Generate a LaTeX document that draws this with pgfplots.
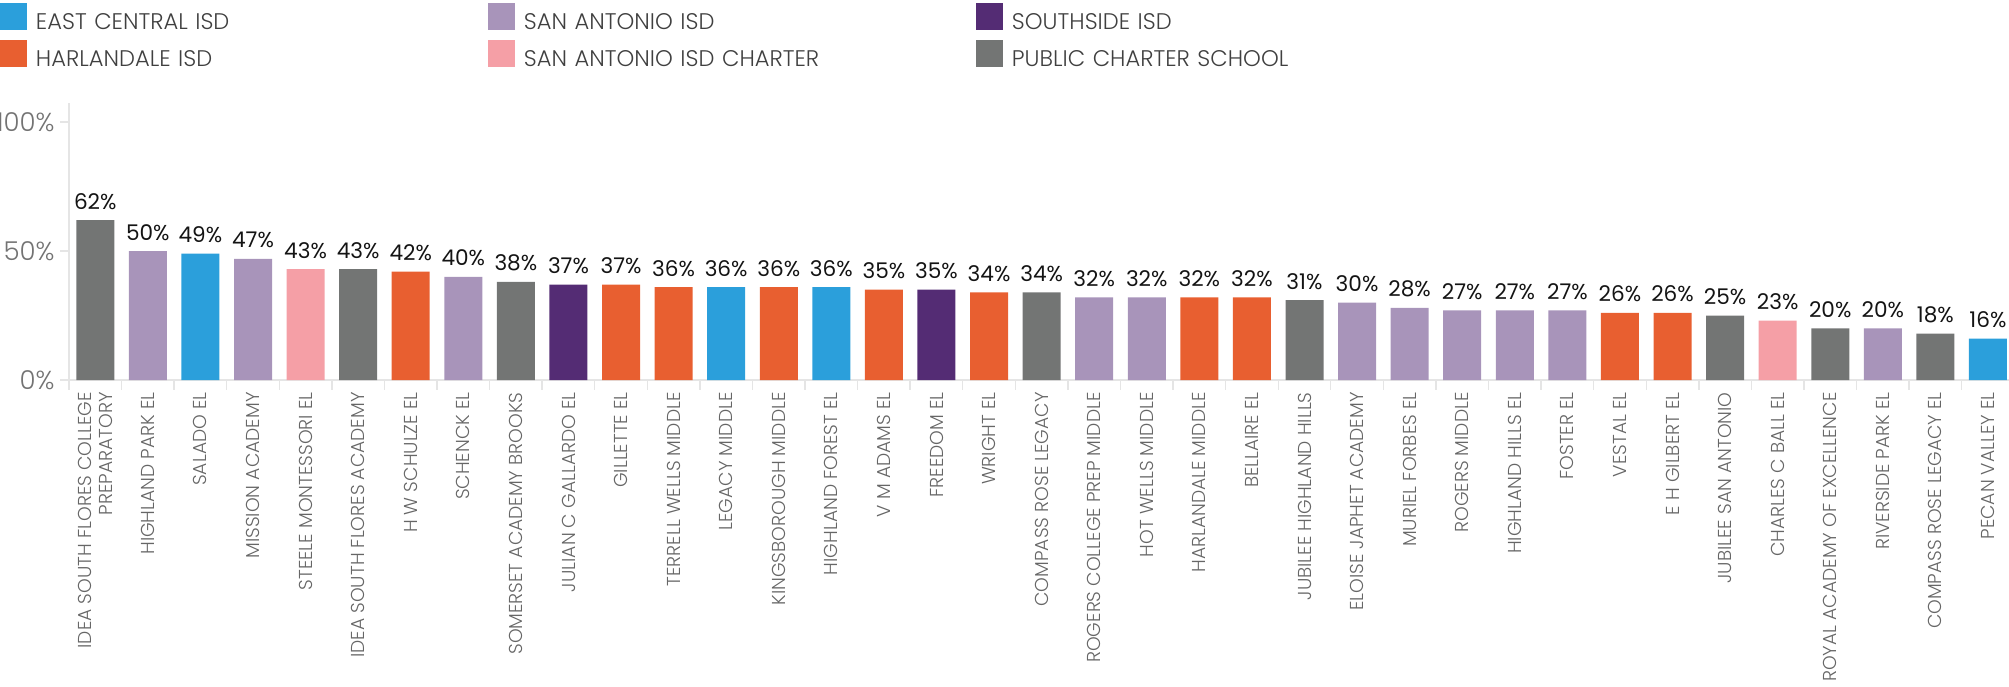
\documentclass[border=0pt]{standalone}
\usepackage{fontspec}
\setmainfont{Poppins Light}
\newfontfamily\regfont{Poppins}
\usepackage{pgfplots}
\pgfplotsset{compat=1.18}

\definecolor{cEC}{HTML}{2B9FDB}
\definecolor{cSA}{HTML}{A894BA}
\definecolor{cSS}{HTML}{542C74}
\definecolor{cHL}{HTML}{E85F30}
\definecolor{cSC}{HTML}{F59FA6}
\definecolor{cPC}{HTML}{737574}

\begin{document}
\begin{tikzpicture}
\begin{axis}[
  name=ax,
  scale only axis,
  width=970pt, height=138.5pt,
  xmin=-0.5, xmax=36.4,
  ymin=0, ymax=107.4,
  ybar, bar width=19pt,
  every axis plot/.append style={bar shift=0pt, draw=none},
  axis x line*=bottom, axis y line*=left,
  axis line style={draw=black!10, line width=0.7pt},
  tick align=outside,
  major tick length=4.5pt,
  minor tick length=5pt,
  ytick={0,50,100},
  yticklabels={0\%,50\%,100\%},
  yticklabel style={font=\fontsize{13}{15}\selectfont, text=black!55, inner xsep=2.5pt},
  ytick style={draw=black!10, line width=0.7pt},
  xtick={0,...,36},
  minor xtick={-0.5,0.5,...,36.5},
  major x tick style={draw=none},
  minor x tick style={draw=black!10, line width=0.7pt},
  xticklabels={
    {IDEA SOUTH FLORES COLLEGE\\PREPARATORY},
    HIGHLAND PARK EL, SALADO EL, MISSION ACADEMY, STEELE MONTESSORI EL,
    IDEA SOUTH FLORES ACADEMY, H W SCHULZE EL, SCHENCK EL,
    SOMERSET ACADEMY BROOKS, JULIAN C GALLARDO EL, GILLETTE EL,
    TERRELL WELLS MIDDLE, LEGACY MIDDLE, KINGSBOROUGH MIDDLE,
    HIGHLAND FOREST EL, V M ADAMS EL, FREEDOM EL, WRIGHT EL,
    COMPASS ROSE LEGACY, ROGERS COLLEGE PREP MIDDLE, HOT WELLS MIDDLE,
    HARLANDALE MIDDLE, BELLAIRE EL, JUBILEE HIGHLAND HILLS,
    ELOISE JAPHET ACADEMY, MURIEL FORBES EL, ROGERS MIDDLE,
    HIGHLAND HILLS EL, FOSTER EL, VESTAL EL, E H GILBERT EL,
    JUBILEE SAN ANTONIO, CHARLES C BALL EL, ROYAL ACADEMY OF EXCELLENCE,
    RIVERSIDE PARK EL, COMPASS ROSE LEGACY EL, PECAN VALLEY EL},
  xticklabel style={rotate=90, anchor=east, align=right,
    font=\fontsize{9.35}{10.3}\selectfont, text=black!60,
    inner ysep=0pt, inner xsep=1.5pt},
  nodes near coords={\pgfmathprintnumber[assume math mode=true]{\pgfplotspointmeta}\%},
  every node near coord/.append style={anchor=base, yshift=5.5pt,
    font=\regfont\fontsize{10.8}{12}\selectfont, text=black!92, inner sep=0pt},
  legend columns=3,
  legend cell align=left,
  legend image code/.code={\fill[#1] (0pt,-3pt) rectangle (13.5pt,10.5pt);},
  legend style={at={(axis description cs:0,1)}, anchor=north west,
    xshift=-34.5pt, yshift=50pt, draw=none, fill=none,
    inner sep=0pt, outer sep=0pt, column sep=4.5pt, row sep=3pt,
    font=\fontsize{11.3}{12}\selectfont, text=black!75,
    nodes={inner sep=0pt, text width=221.5pt, text height=7.5pt, text depth=2pt}},
]
\addplot[fill=cEC] coordinates {(2,49) (12,36) (14,36) (36,16)};
\addplot[fill=cSA] coordinates {(1,50) (3,47) (7,40) (19,32) (20,32) (24,30) (25,28) (26,27) (27,27) (28,27) (34,20)};
\addplot[fill=cSS] coordinates {(9,37) (16,35)};
\addplot[fill=cHL] coordinates {(6,42) (10,37) (11,36) (13,36) (15,35) (17,34) (21,32) (22,32) (29,26) (30,26)};
\addplot[fill=cSC] coordinates {(4,43) (32,23)};
\addplot[fill=cPC] coordinates {(0,62) (5,43) (8,38) (18,34) (23,31) (31,25) (33,20) (35,18)};
\legend{EAST CENTRAL ISD, SAN ANTONIO ISD, SOUTHSIDE ISD, HARLANDALE ISD, SAN ANTONIO ISD CHARTER, PUBLIC CHARTER SCHOOL}
\end{axis}
\pgfresetboundingbox
\path[use as bounding box] ([xshift=-34.5pt, yshift=51.5pt]ax.north west) rectangle ([yshift=-153pt]ax.south east);
\end{tikzpicture}
\end{document}
